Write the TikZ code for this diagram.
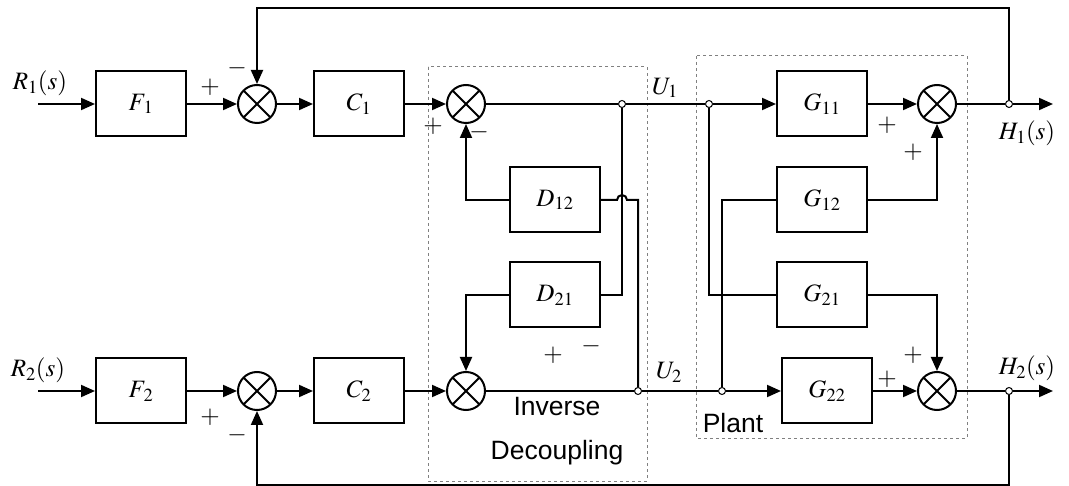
\documentclass[tikz,border=0pt]{standalone}
\usepackage{mathptmx}
\usepackage{fontspec}
\setmainfont{Liberation Serif}
\setsansfont{Liberation Sans}
\usetikzlibrary{arrows.meta}

\begin{document}
\begin{tikzpicture}[x=1pt,y=-1pt,>={Triangle[length=14pt,width=12pt]},
    every node/.style={font=\fontsize{25}{30}\selectfont},
    blk/.style={draw,line width=2pt,minimum width=90pt,minimum height=65pt,inner sep=0pt},
    mix/.style={draw,circle,line width=2pt,minimum size=38pt,inner sep=0pt,
        path picture={\draw[line width=2pt] (path picture bounding box.north west) -- (path picture bounding box.south east)
            (path picture bounding box.south west) -- (path picture bounding box.north east);}},
    jn/.style={draw,circle,fill=white,line width=1pt,minimum size=7pt,inner sep=0pt},
    wire/.style={line width=2pt},
    grp/.style={draw=gray,dashed,line width=1pt},
    lbl/.style={font=\sffamily\fontsize{26.5}{32}\selectfont}]
    \useasboundingbox (0,0) rectangle (1069,486);

    % blocks
    \node[blk] (f1) at (141,104) {$F_{\kern2pt 1}$};
    \node[mix] (s1) at (257,104) {};
    \node[blk] (c1) at (359,104) {$C_1$};
    \node[mix] (s3) at (466,104) {};
    \node[blk] (d12) at (555,200) {$D_{12}$};
    \node[blk] (d21) at (555,295) {$D_{21}$};
    \node[mix] (s4) at (466,391) {};
    \node[blk] (f2) at (141,391) {$F_{\kern2pt 2}$};
    \node[mix] (s2) at (257,391) {};
    \node[blk] (c2) at (359,391) {$C_2$};
    \node[blk] (g11) at (822,104) {$G_{11}$};
    \node[blk] (g12) at (822,200) {$G_{12}$};
    \node[blk] (g21) at (822,295) {$G_{21}$};
    \node[blk] (g22) at (827,391) {$G_{22}$};
    \node[mix] (s5) at (937,104) {};
    \node[mix] (s6) at (937,391) {};

    % branch points
    \node[jn] (j1) at (622,104) {};
    \node[jn] (j2) at (638,391) {};
    \node[jn] (j3) at (709,104) {};
    \node[jn] (j4) at (722,391) {};
    \node[jn] (o1) at (1009,104) {};
    \node[jn] (o2) at (1009,391) {};
    \coordinate (r1) at (38,104);
    \coordinate (r2) at (38,391);
    \coordinate (h1) at (1053,104);
    \coordinate (h2) at (1053,391);

    % groups
    \draw[grp] (428,67) rectangle (647,481);
    \draw[grp] (696,56) rectangle (967,438);

    % loop 1
    \draw[wire,->] (r1) -- (f1);
    \draw[wire,->] (f1) -- (s1);
    \draw[wire,->] (s1) -- (c1);
    \draw[wire,->] (c1) -- (s3);
    \draw[wire] (s3) -- (j1) -- (j3);
    \draw[wire,->] (j3) -- (g11);
    \draw[wire,->] (g11) -- (s5);
    \draw[wire] (s5) -- (o1);
    \draw[wire,->] (o1) -- (h1);
    \draw[wire,->] (o1) -- ++(0,-96) -| (s1);

    % loop 2
    \draw[wire,->] (r2) -- (f2);
    \draw[wire,->] (f2) -- (s2);
    \draw[wire,->] (s2) -- (c2);
    \draw[wire,->] (c2) -- (s4);
    \draw[wire] (s4) -- (j2) -- (j4);
    \draw[wire,->] (j4) -- (g22);
    \draw[wire,->] (g22) -- (s6);
    \draw[wire] (s6) -- (o2);
    \draw[wire,->] (o2) -- (h2);
    \draw[wire,->] (o2) -- ++(0,94) -| (s2);

    % decoupling
    \draw[wire] (j1) |- (d21);
    \draw[wire,->] (d21) -| (s4);
    \draw[wire,->] (d12) -| (s3);
    \draw[wire] (d12) -- (617,200) arc[start angle=180,end angle=360,radius=5] -- (638,200) -- (j2);

    % plant cross terms
    \draw[wire] (j3) |- (g21);
    \draw[wire] (j4) |- (g12);
    \draw[wire,->] (g12) -| (s5);
    \draw[wire,->] (g21) -| (s6);

    % labels
    \node (lr1) at (40,83) {$R_1(s)$};
    \node (lr2) at (38,370) {$R_2(s)$};
    \node (lh1) at (1027,133) {$H_1(s)$};
    \node (lh2) at (1027,368) {$H_2(s)$};
    \node (lu1) at (665,88) {$U_1$};
    \node (lu2) at (669,372) {$U_2$};
    \node (p1) at (210,87) {$+$};
    \node (m1) at (237,68) {$-$};
    \node (p2) at (210,417) {$+$};
    \node (m2) at (237,435) {$-$};
    \node (p3) at (433,126) {$+$};
    \node (m3) at (479,132) {$-$};
    \node (p4) at (553,355) {$+$};
    \node (m4) at (591,346) {$-$};
    \node (p5) at (887,125) {$+$};
    \node (p6) at (913,152) {$+$};
    \node (p7) at (913,355) {$+$};
    \node (p8) at (887,379) {$+$};
    \node[lbl] (inv) at (557,407) {Inverse};
    \node[lbl] (dec) at (557,453) {Decoupling};
    \node[lbl] (pl) at (733,423) {Plant};
\end{tikzpicture}
\end{document}
